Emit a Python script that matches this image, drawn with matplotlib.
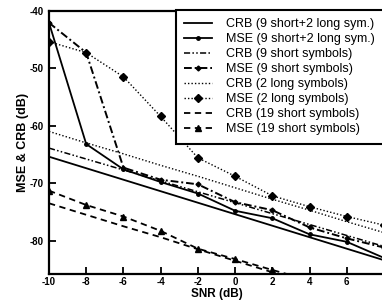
import matplotlib
matplotlib.use('Agg')
import matplotlib.pyplot as plt

plt.rcParams['font.family'] = ['Liberation Sans', 'DejaVu Sans']
plt.rcParams['axes.unicode_minus'] = False

snr = [-10, -8, -6, -4, -2, 0, 2, 4, 6, 8]
snr19 = [-10, -8, -6, -4, -2, 0, 2, 4]

crb_comb = [-65.4, -67.4, -69.4, -71.4, -73.4, -75.4, -77.4, -79.4, -81.4, -83.4]
mse_comb = [-42.1, -63.2, -67.6, -69.8, -71.8, -74.8, -76.1, -78.9, -80.2, -83.0]
crb_9s = [-63.9, -65.8, -67.7, -69.6, -71.5, -73.4, -75.3, -77.2, -79.1, -81.0]
mse_9s = [-42.1, -47.3, -67.3, -69.4, -70.2, -73.3, -74.7, -77.7, -79.6, -81.2]
crb_2l = [-61.0, -63.0, -64.9, -66.9, -68.8, -70.8, -72.8, -74.7, -76.7, -78.6]
mse_2l = [-45.4, -47.3, -51.5, -58.4, -65.6, -68.8, -72.2, -74.1, -75.8, -77.3]
crb_19s = [-73.5, -75.5, -77.5, -79.4, -81.5, -83.5, -85.5, -87.5]
mse_19s = [-71.3, -73.8, -75.8, -78.3, -81.4, -83.2, -85.1, -86.9]

labels = ['CRB (9 short+2 long sym.)', 'MSE (9 short+2 long sym.)',
          'CRB (9 short symbols)', 'MSE (9 short symbols)',
          'CRB (2 long symbols)', 'MSE (2 long symbols)',
          'CRB (19 short symbols)', 'MSE (19 short symbols)']

W, H = 382, 308
fig = plt.figure(figsize=(W / 100, H / 100), dpi=100)
ax_bottom, ax_top = 274, 10.7
ax = fig.add_axes([49 / W, 1 - ax_bottom / H, (384 - 49) / W, (ax_bottom - ax_top) / H])

k = 'black'
ax.plot(snr, crb_comb, color=k, lw=1.3, ls='-', label=labels[0])
ax.plot(snr, mse_comb, color=k, lw=1.3, ls='-', marker='o', ms=2.5, label=labels[1])
ax.plot(snr, crb_9s, color=k, lw=1.1, ls=(0, (4, 1.5, 1, 1.5, 1, 1.5)), label=labels[2])
ax.plot(snr, mse_9s, color=k, lw=1.4, ls=(0, (4, 1.5, 1, 1.5)), marker='D', ms=2.5, label=labels[3])
ax.plot(snr, crb_2l, color=k, lw=1.0, ls=(0, (1, 1.5)), label=labels[4])
ax.plot(snr, mse_2l, color=k, lw=1.0, ls=(0, (1, 1.5)), marker='D', ms=4.5, label=labels[5])
ax.plot(snr19, crb_19s, color=k, lw=1.3, ls=(0, (3.5, 2.5)), label=labels[6])
ax.plot(snr19, mse_19s, color=k, lw=1.3, ls=(0, (3.5, 2.5)), marker='^', ms=4.5, label=labels[7])

ax.set_xlim(-10, 8)
ax.set_ylim(-85.8, -40)
ax.set_xticks([-10, -8, -6, -4, -2, 0, 2, 4, 6, 8])
ax.set_yticks([-80, -70, -60, -50, -40])
ax.tick_params(direction='in', length=5, width=1.3, labelsize=7)
ax.tick_params(axis='x', pad=2)
ax.tick_params(axis='y', pad=4)
for t in ax.get_xticklabels() + ax.get_yticklabels():
    t.set_fontweight('bold')
for s in ax.spines.values():
    s.set_linewidth(1.6)

ax.set_xlabel('SNR (dB)', fontsize=8.5, fontweight='bold', va='center')
ax.xaxis.set_label_coords(0.5, -(294.5 - ax_bottom) / (ax_bottom - ax_top))
ax.set_ylabel('MSE & CRB (dB)', fontsize=9, fontweight='bold', labelpad=0)

leg = ax.legend(loc='upper left', bbox_to_anchor=(176 / W, 0, 220 / W, 1 - 10 / H),
                bbox_transform=fig.transFigure, mode='expand', borderaxespad=0,
                fontsize=9, handlelength=2.2, handletextpad=1.1, labelspacing=0.24,
                borderpad=0.66, fancybox=False, framealpha=1, edgecolor='black')
leg.get_frame().set_linewidth(1.5)

fig.savefig('out.png', dpi=100)
